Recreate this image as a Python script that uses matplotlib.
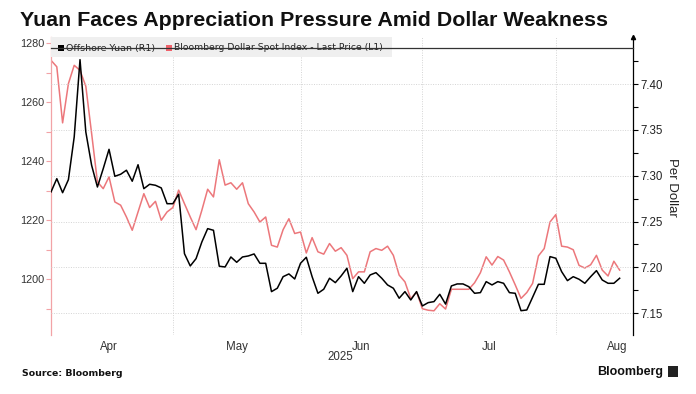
import numpy as np
import pandas as pd
import matplotlib
matplotlib.use("Agg")
import matplotlib.pyplot as plt
from matplotlib.patches import Rectangle

# ---------------- data ----------------
start_date = "2025-04-02"
title = "Yuan Faces Appreciation Pressure Amid Dollar Weakness"
yuan_label = "Offshore Yuan (R1)"
dxy_label = "Bloomberg Dollar Spot Index - Last Price (L1)"

yuan = [7.2823, 7.2968, 7.2815, 7.2957, 7.3423, 7.4266, 7.3477, 7.3114, 7.2877, 7.3077,
        7.3288, 7.2994, 7.3016, 7.3060, 7.2940, 7.3120, 7.2859, 7.2907, 7.2896, 7.2867,
        7.2695, 7.2695, 7.2798, 7.2150, 7.2016, 7.2096, 7.2278, 7.2423, 7.2405, 7.2013,
        7.2005, 7.2114, 7.2056, 7.2114, 7.2125, 7.2147, 7.2045, 7.2045, 7.1736, 7.1773,
        7.1899, 7.1929, 7.1874, 7.2045, 7.2111, 7.1899, 7.1718, 7.1762, 7.1882, 7.1834,
        7.1907, 7.1991, 7.1736, 7.1899, 7.1827, 7.1918, 7.1943, 7.1882, 7.1809, 7.1773,
        7.1664, 7.1736, 7.1645, 7.1736, 7.1580, 7.1616, 7.1627, 7.1707, 7.1600, 7.1798,
        7.1820, 7.1820, 7.1790, 7.1718, 7.1725, 7.1845, 7.1809, 7.1845, 7.1827, 7.1725,
        7.1718, 7.1528, 7.1536, 7.1675, 7.1816, 7.1816, 7.2118, 7.2100, 7.1954, 7.1856,
        7.1899, 7.1871, 7.1827, 7.1899, 7.1965, 7.1863, 7.1827, 7.1827, 7.1882]

dxy = [1274.2, 1272.0, 1253.0, 1266.3, 1272.5, 1270.8, 1265.4, 1249.4, 1233.0, 1230.7,
       1234.7, 1226.2, 1225.1, 1221.1, 1216.6, 1222.8, 1229.0, 1224.3, 1226.4, 1220.0,
       1222.8, 1224.3, 1230.2, 1225.6, 1221.1, 1216.8, 1223.4, 1230.5, 1227.9, 1240.5,
       1231.9, 1232.7, 1230.5, 1232.7, 1225.6, 1222.8, 1219.4, 1221.1, 1211.5, 1210.9,
       1216.8, 1220.5, 1215.5, 1216.0, 1208.9, 1214.1, 1209.3, 1208.5, 1212.1, 1209.5,
       1210.7, 1208.1, 1200.2, 1202.5, 1202.5, 1209.3, 1210.4, 1209.8, 1211.2, 1208.1,
       1201.4, 1199.1, 1193.4, 1195.7, 1190.0, 1189.5, 1189.3, 1191.7, 1189.9, 1196.6,
       1196.6, 1196.6, 1196.6, 1198.8, 1202.2, 1207.6, 1204.8, 1207.7, 1206.5, 1202.5,
       1198.1, 1193.5, 1195.5, 1198.6, 1207.9, 1210.4, 1219.4, 1221.9, 1211.2, 1210.9,
       1210.0, 1204.7, 1203.8, 1204.9, 1208.1, 1203.1, 1201.1, 1206.1, 1203.1]

left_ticks = [1200, 1220, 1240, 1260, 1280]
right_ticks = [7.15, 7.20, 7.25, 7.30, 7.35, 7.40]
year_label = "2025"

# ---------------- layout ----------------
W, H = 696, 394
fig = plt.figure(figsize=(W / 100, H / 100), dpi=100)

def rect(x0, y0, x1, y1):
    return [x0 / W, 1 - y1 / H, (x1 - x0) / W, (y1 - y0) / H]

TICKFONT = "Liberation Sans"
RED = "#ec777b"
PINK = "#f2a3a6"
DARK = "#333333"

ax = fig.add_axes(rect(51, 37, 633, 335))
ax2 = ax.twinx()

dates = pd.bdate_range(start_date, periods=len(yuan))
x = np.arange(len(dates))

# month boundaries / centres on a trading-day axis
all_days = pd.bdate_range("2025-04-01", "2025-09-30")
offset = all_days.get_loc(dates[0])
month_first = {}
for i, d in enumerate(all_days):
    key = (d.year, d.month)
    if key not in month_first:
        month_first[key] = i - offset
keys = sorted(month_first)
shown = [k for k in keys if k[1] in (4, 5, 6, 7, 8)]
centres = [(month_first[k] + month_first[keys[keys.index(k) + 1]]) / 2 for k in shown]
names = [pd.Timestamp(year=k[0], month=k[1], day=1).strftime("%b") for k in shown]
bounds = [month_first[k] for k in shown[1:]]

ax.plot(x, dxy, color=RED, lw=1.1, zorder=2)
ax2.plot(x, yuan, color="black", lw=1.1, zorder=3)

ax.set_xlim(0, 100.3)
ax.set_ylim(1181.1, 1282.1)
ax2.set_ylim(7.1263, 7.4513)

# left axis
ax.set_yticks(left_ticks)
ax.set_yticks(np.arange(1190, 1281, 10), minor=True)
ax.tick_params(axis="y", which="both", direction="out", length=3.5, width=0.8,
               color=PINK, labelcolor=DARK, labelsize=7.8, pad=1.5)
for lab in ax.get_yticklabels():
    lab.set_fontfamily(TICKFONT)

# right axis
ax2.set_yticks(right_ticks)
ax2.set_yticklabels([f"{v:.2f}" for v in right_ticks])
ax2.set_yticks(np.arange(7.15, 7.44, 0.025), minor=True)
ax2.tick_params(axis="y", which="both", direction="out", length=3.5, width=0.8,
                color="black", labelcolor="#222222", labelsize=8.3, pad=2)
for lab in ax2.get_yticklabels():
    lab.set_fontfamily(TICKFONT)

# x axis
ax.set_xticks(centres)
ax.set_xticklabels(names)
ax.set_xticks(bounds, minor=True)
ax.tick_params(axis="x", which="both", length=0, labelsize=8.3, labelcolor=DARK, pad=4)
for lab in ax.get_xticklabels():
    lab.set_fontfamily(TICKFONT)
ax.grid(axis="x", which="minor", color="#d4d4d4", lw=0.7, ls=(0, (1, 1.5)))
ax2.grid(axis="y", which="major", color="#d4d4d4", lw=0.7, ls=(0, (1, 1.5)))
ax2.set_axisbelow(True)

for s in ["top", "bottom", "right"]:
    ax.spines[s].set_visible(False)
ax.spines["left"].set_color(PINK)
ax.spines["left"].set_linewidth(0.9)
for s in ["top", "bottom", "left"]:
    ax2.spines[s].set_visible(False)
ax2.spines["right"].set_color("black")
ax2.spines["right"].set_linewidth(0.9)
ax2.plot([1], [1.0], marker="^", ms=3, color="black", transform=ax2.transAxes,
         clip_on=False, zorder=6)

# legend band
top_frac = (335 - 57) / 298
ax2.add_patch(Rectangle((0, top_frac), (392 - 51) / 582, 1 - top_frac,
                        transform=ax2.transAxes, facecolor="#efefef",
                        edgecolor="none", zorder=4, clip_on=False))
line_y = (335 - 47.5) / 298
ax2.plot([0, 1], [line_y, line_y], transform=ax2.transAxes, color="#333333",
         lw=0.9, zorder=6, clip_on=False)

def fx(px_):
    return (px_ - 51) / 582

def fit(t, target_w):
    fig.canvas.draw()
    r = fig.canvas.get_renderer()
    w = t.get_window_extent(r).width
    t.set_fontsize(t.get_fontsize() * target_w / w)

ax2.add_patch(Rectangle((fx(58), (335 - 51) / 298), 6 / 582, 6 / 298,
                        transform=ax2.transAxes, facecolor="black",
                        edgecolor="none", zorder=5, clip_on=False))
ax2.add_patch(Rectangle((fx(166), (335 - 51) / 298), 6 / 582, 6 / 298,
                        transform=ax2.transAxes, facecolor="#f0616a",
                        edgecolor="none", zorder=5, clip_on=False))
t1 = ax2.text(fx(66), (335 - 48) / 298, yuan_label, transform=ax2.transAxes,
              fontsize=7, color="#222222", va="center", ha="left", zorder=5,
              family="DejaVu Sans")
t2 = ax2.text(fx(174), (335 - 48) / 298, dxy_label, transform=ax2.transAxes,
              fontsize=7, color="#222222", va="center", ha="left", zorder=5,
              family="DejaVu Sans")
fit(t1, 89)
fit(t2, 211)

# texts
tt = fig.text(20 / W, 1 - 21 / H, title, fontsize=15, fontweight="bold",
              family="Liberation Sans", va="center", ha="left", color="#111111")
fit(tt, 590)
fig.text(672 / W, 1 - 187 / H, "Per Dollar", rotation=270, fontsize=9.5,
         family=TICKFONT, va="center", ha="center", color="#222222")
fig.text(340 / W, 1 - 357 / H, year_label, fontsize=8.3, family=TICKFONT,
         va="center", ha="center", color=DARK)
src = fig.text(22 / W, 1 - 373 / H, "Source: Bloomberg", fontsize=7.5,
               fontweight="bold", family="DejaVu Sans", va="center", ha="left",
               color="#111111")
fit(src, 102)
logo = fig.text(597 / W, 1 - 371.5 / H, "Bloomberg", fontsize=10,
                fontweight="bold", family="Liberation Sans", va="center",
                ha="left", color="#111111")
fit(logo, 66)
fig.patches.append(Rectangle((668 / W, 1 - 377 / H), 10 / W, 11 / H,
                             transform=fig.transFigure, facecolor="#222222",
                             edgecolor="none"))

fig.savefig("out.png", dpi=100)
